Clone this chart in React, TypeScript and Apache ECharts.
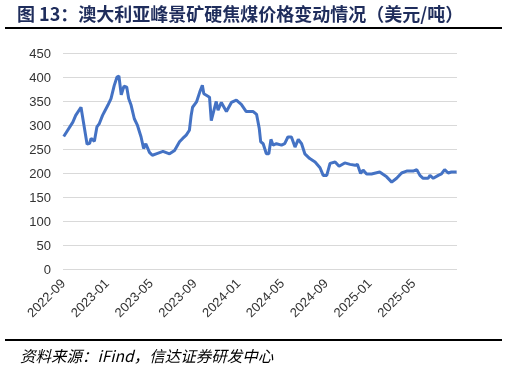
import React, { useEffect, useRef } from "react";
import * as echarts from "echarts";

const tickLabels = ["2022-09", "2023-01", "2023-05", "2023-09", "2024-01", "2024-05", "2024-09", "2025-01", "2025-05", "2025-09"];

const dates = [
  "2022-09-03", "2022-09-28", "2022-10-06", "2022-10-21", "2022-11-07", "2022-11-14", "2022-11-18", "2022-11-27",
  "2022-12-04", "2022-12-11", "2022-12-20", "2022-12-25", "2023-01-04", "2023-01-13", "2023-01-22", "2023-01-30",
  "2023-02-04", "2023-02-10", "2023-02-17", "2023-02-24", "2023-03-01", "2023-03-08", "2023-03-17", "2023-03-26",
  "2023-04-05", "2023-04-12", "2023-04-18", "2023-04-28", "2023-05-06", "2023-05-17", "2023-06-05", "2023-06-23",
  "2023-07-07", "2023-07-21", "2023-07-30", "2023-08-09", "2023-08-18", "2023-08-23", "2023-08-27", "2023-09-07",
  "2023-09-16", "2023-09-23", "2023-09-27", "2023-10-04", "2023-10-13", "2023-10-18", "2023-11-01", "2023-11-06",
  "2023-11-15", "2023-11-29", "2023-12-13", "2023-12-27", "2024-01-10", "2024-01-24", "2024-02-12", "2024-02-21",
  "2024-02-28", "2024-03-03", "2024-03-10", "2024-03-19", "2024-03-26", "2024-04-01", "2024-04-07", "2024-04-16",
  "2024-04-30", "2024-05-09", "2024-05-18", "2024-05-28", "2024-06-07", "2024-06-16", "2024-06-25", "2024-07-04",
  "2024-07-18", "2024-08-02", "2024-08-16", "2024-08-25", "2024-09-04", "2024-09-13", "2024-09-27", "2024-10-08",
  "2024-10-24", "2024-11-08", "2024-11-22", "2024-11-28", "2024-12-07", "2024-12-14", "2024-12-24", "2025-01-07",
  "2025-01-30", "2025-02-17", "2025-03-02", "2025-03-16", "2025-03-30", "2025-04-13", "2025-05-01", "2025-05-11",
  "2025-05-20", "2025-05-29", "2025-06-12", "2025-06-17", "2025-06-26", "2025-07-10", "2025-07-19", "2025-07-28",
  "2025-08-07", "2025-08-16", "2025-08-31",
];

const prices = [
  276, 306, 320, 337, 260, 262, 272, 266,
  296, 303, 320, 327, 341, 355, 382, 400,
  402, 363, 381, 379, 355, 341, 313, 299,
  275, 251, 261, 243, 237, 240, 245, 240,
  247, 265, 272, 279, 289, 320, 337, 348,
  369, 383, 365, 362, 358, 309, 349, 331,
  347, 328, 347, 352, 343, 328, 328, 322,
  293, 265, 261, 240, 240, 270, 258, 261,
  258, 261, 275, 275, 254, 270, 261, 240,
  230, 223, 211, 195, 195, 220, 223, 214,
  221, 218, 216, 218, 199, 206, 198, 198,
  202, 192, 181, 189, 200, 204, 204, 207,
  195, 189, 189, 195, 189, 195, 198, 207,
  200, 202, 202,
];

function monthIndex(d: string): number {
  const [y, m, day] = d.split("-").map(Number);
  const dim = new Date(y, m, 0).getDate();
  return (y - 2022) * 12 + (m - 9) + (day - 1) / dim;
}

export default function App() {
  const ref = useRef<HTMLDivElement>(null);
  useEffect(() => {
    const chart = echarts.init(ref.current!, null, { renderer: "svg" });
    const data = dates.map((d, i) => [monthIndex(d), prices[i]]);
    chart.setOption({
      animation: false,
      grid: { left: 63, right: 50, top: 53, bottom: 96 },
      xAxis: {
        type: "value",
        min: 0,
        max: 36,
        interval: 4,
        axisLine: { show: false },
        axisTick: { show: false },
        splitLine: { show: false },
        axisLabel: {
          rotate: 45,
          margin: 12,
          showMaxLabel: false,
          color: "#333",
          fontSize: 13,
          fontFamily: "Liberation Sans",
          formatter: (v: number) => tickLabels[Math.round(v / 4)] ?? "",
        },
      },
      yAxis: {
        type: "value",
        min: 0,
        max: 450,
        interval: 50,
        axisLine: { show: false },
        axisTick: { show: false },
        splitLine: { lineStyle: { color: "#d9d9d9", width: 1 } },
        axisLabel: { margin: 12, color: "#333", fontSize: 13, fontFamily: "Liberation Sans" },
      },
      series: [
        {
          type: "line",
          data,
          showSymbol: false,
          lineStyle: { color: "#4472C4", width: 3 },
          itemStyle: { color: "#4472C4" },
        },
      ],
      graphic: [
        {
          type: "text",
          left: 17,
          top: 4,
          style: {
            text: "图 13：澳大利亚峰景矿硬焦煤价格变动情况（美元/吨）",
            font: 'bold 18px "Noto Sans CJK SC"',
            fill: "#1f2d5c",
          },
        },
        { type: "line", shape: { x1: 5, y1: 28, x2: 502, y2: 28 }, style: { stroke: "#000", lineWidth: 2 } },
        { type: "line", shape: { x1: 5, y1: 340, x2: 502, y2: 340 }, style: { stroke: "#000", lineWidth: 2 } },
        {
          type: "text",
          left: 20,
          top: 347,
          style: {
            text: "资料来源：iFind，信达证券研发中心",
            font: 'italic 15.5px "Noto Sans CJK SC"',
            fill: "#000",
          },
        },
      ],
    });
    return () => chart.dispose();
  }, []);
  return <div ref={ref} style={{ position: "fixed", left: 0, top: 0, width: 507, height: 365 }} />;
}
